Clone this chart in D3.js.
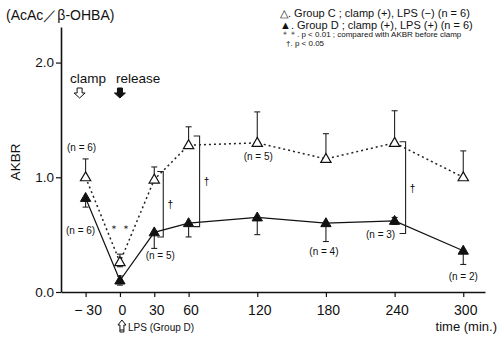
<!DOCTYPE html>
<html><head><meta charset="utf-8">
<script src="https://cdn.jsdelivr.net/npm/d3@7"></script>
<style>
body{margin:0;background:#fff;}
svg{display:block;}
text{font-family:"Liberation Sans",Arial,sans-serif;fill:#111;}
</style></head>
<body>
<svg id="c" width="499" height="340"></svg>
<script>
// ---- data ----
const times = [-30, 0, 30, 60, 120, 180, 240, 300];
const xTicks = [-30, 0, 30, 60, 120, 180, 240, 300];
const xTickLabels = ["\u2212 30", "0", "30", "60", "120", "180", "240", "300"];
const yTicks = [0, 1, 2];
const yTickLabels = ["0.0", "1.0", "2.0"];
const groupC = [1.00, 0.26, 0.98, 1.28, 1.30, 1.16, 1.30, 1.00];
const groupCErrUp = [0.16, 0.07, 0.11, 0.16, 0.27, 0.22, 0.28, 0.23];
const groupCErrDown = [0, 0.04, 0, 0, 0, 0, 0, 0];
const groupD = [0.82, 0.10, 0.52, 0.60, 0.65, 0.60, 0.62, 0.36];
const groupDErrUp = [0, 0.04, 0, 0, 0, 0, 0.03, 0];
const groupDErrDown = [0.08, 0.04, 0.14, 0.12, 0.15, 0.16, 0.03, 0.12];
const bracketTimes = [30, 60, 240];
const bracketTop = [1.05, 1.36, 1.31];
const bracketBottom = [0.48, 0.57, 0.51];
const legendLines = ["\u25B3. Group  C ; clamp (+), LPS (\u2212)  (n = 6)",
                     "\u25B2. Group  D ; clamp (+), LPS (+)  (n = 6)"];
const footnotes = ["\uFF0A\uFF0A.  p < 0.01 ; compared with AKBR before clamp",
                   "\u2020.  p < 0.05"];

// ---- scales ----
const svg = d3.select("#c");
const x = d3.scaleLinear().domain([-51.5, 319]).range([61, 485]);
const y = d3.scaleLinear().domain([0, 2.31]).range([292, 27]);

// axes
const xAxis = d3.axisBottom(x).tickValues(xTicks).tickSize(5).tickFormat((d,i)=>xTickLabels[i]).tickSizeOuter(0);
const gx = svg.append("g").attr("transform","translate(0,292)").call(xAxis);
gx.select(".domain").attr("stroke","#111").attr("stroke-width",1.6);
gx.selectAll(".tick line").attr("stroke","#111").attr("stroke-width",1.2);
gx.selectAll(".tick text").attr("font-size","14px").attr("dy","1.05em").attr("dx","2")
  .style("font-family","'Liberation Sans',Arial,sans-serif").attr("fill","#111");

const yAxis = d3.axisLeft(y).tickValues(yTicks).tickSize(5).tickFormat((d,i)=>yTickLabels[i]).tickSizeOuter(0);
const gy = svg.append("g").attr("transform","translate(61,0)").call(yAxis);
gy.select(".domain").attr("stroke","#111").attr("stroke-width",1.6);
gy.selectAll(".tick line").attr("stroke","#111").attr("stroke-width",1.2);
gy.selectAll(".tick text").attr("font-size","13.5px").attr("x",-7)
  .style("font-family","'Liberation Sans',Arial,sans-serif").attr("fill","#111");

// lines
const ptsC = times.map((t,i)=>[t,groupC[i]]);
const ptsD = times.map((t,i)=>[t,groupD[i]]);
const line = d3.line().x(d=>x(d[0])).y(d=>y(d[1]));
svg.append("path").attr("d",line(ptsC)).attr("fill","none").attr("stroke","#222")
  .attr("stroke-width",1.5).attr("stroke-dasharray","2,3");
svg.append("path").attr("d",line(ptsD)).attr("fill","none").attr("stroke","#111")
  .attr("stroke-width",1.2);

// error bars
function errBars(vals, up, down){
  const g = svg.append("g").attr("stroke","#222").attr("stroke-width",1.1);
  times.forEach((t,i)=>{
    const cx = x(t);
    const top = y(vals[i]+up[i]), bot = y(vals[i]-down[i]);
    g.append("line").attr("x1",cx).attr("x2",cx).attr("y1",top).attr("y2",bot);
    if(up[i]>0) g.append("line").attr("x1",cx-3).attr("x2",cx+3).attr("y1",top).attr("y2",top);
    if(down[i]>0) g.append("line").attr("x1",cx-3).attr("x2",cx+3).attr("y1",bot).attr("y2",bot);
  });
}
errBars(groupC, groupCErrUp, groupCErrDown);
errBars(groupD, groupDErrUp, groupDErrDown);

// markers
const tri = d3.symbol().type(d3.symbolTriangle).size(46);
svg.append("g").selectAll("path").data(ptsC).join("path")
  .attr("d",tri).attr("transform",d=>`translate(${x(d[0])},${y(d[1])+0.5})`)
  .attr("fill","#fff").attr("stroke","#111").attr("stroke-width",1.2);
svg.append("g").selectAll("path").data(ptsD).join("path")
  .attr("d",tri).attr("transform",d=>`translate(${x(d[0])},${y(d[1])+0.5})`)
  .attr("fill","#111").attr("stroke","#111").attr("stroke-width",1);

// significance brackets
bracketTimes.forEach((t,i)=>{
  const bx = x(t) + (i===0 ? 9 : 11);
  const t0 = y(bracketTop[i]), b0 = y(bracketBottom[i]);
  svg.append("path").attr("d",`M${bx-6},${t0}H${bx}V${b0}H${bx-6}`)
    .attr("fill","none").attr("stroke","#222").attr("stroke-width",1.1);
  svg.append("text").attr("x",bx+7).attr("y",(t0+b0)/2+4).attr("font-size","10px")
    .attr("text-anchor","middle").style("fill","#000").text("\u2020");
});

// n labels & stars
const lab = (tx,ty,s,fs)=>svg.append("text").attr("x",tx).attr("y",ty)
  .attr("font-size",fs||"10px").attr("text-anchor","middle").text(s);
lab(x(-30)-4, y(groupC[0])-26, "(n = 6)");
lab(x(-30)-5, y(groupD[0])+36, "(n = 6)");
lab(x(0), 232, "\uFF0A \uFF0A", "10px");
lab(x(30)+6, y(groupD[2])+27, "(n = 5)");
lab(x(120)+1, y(groupC[4])+17, "(n = 5)");
lab(x(180)-2, y(groupD[5])+32, "(n = 4)");
lab(x(240)-14, y(groupD[6])+17, "(n = 3)");
lab(x(300), y(groupD[7])+29, "(n = 2)");

// title & axis labels
svg.append("text").attr("x",6).attr("y",20).attr("font-size","14px").text("(AcAc\uFF0F\u03B2-OHBA)");
svg.append("text").attr("transform","translate(20,162) rotate(-90)").attr("text-anchor","middle")
  .attr("font-size","13.5px").text("AKBR");
svg.append("text").attr("x",497).attr("y",331).attr("text-anchor","end").attr("font-size","13px").text("time (min.)");
svg.append("text").attr("x",128).attr("y",331).attr("font-size","10px").text("LPS (Group D)");

// clamp / release
svg.append("text").attr("x",70).attr("y",83).attr("font-size","13.5px").text("clamp");
svg.append("text").attr("x",116).attr("y",83).attr("font-size","13.5px").text("release");
function downArrow(cx, top, filled){
  const p = `M${cx-2.5},${top}H${cx+2.5}V${top+5}H${cx+5.5}L${cx},${top+10}L${cx-5.5},${top+5}H${cx-2.5}Z`;
  svg.append("path").attr("d",p).attr("fill",filled?"#111":"#fff").attr("stroke","#111").attr("stroke-width",1);
}
downArrow(x(-30)-6, 88, false);
downArrow(x(0), 88, true);
// LPS up arrow (outlined)
(function(){
  const cx = x(0)+2, top = 320;
  const p = `M${cx},${top}L${cx+4},${top+5}H${cx+2}V${top+12}H${cx-2}V${top+5}H${cx-4}Z`;
  svg.append("path").attr("d",p).attr("fill","#fff").attr("stroke","#111").attr("stroke-width",1);
  svg.append("line").attr("x1",cx-2).attr("x2",cx+2).attr("y1",top+10).attr("y2",top+10).attr("stroke","#111");
})();

// legend
legendLines.forEach((s,i)=>{
  svg.append("text").attr("x",280).attr("y",17+i*11.5).attr("font-size","11px").text(s);
});
footnotes.forEach((s,i)=>{
  svg.append("text").attr("x",i===0?281:286).attr("y",37+i*8.5).attr("font-size","8px").text(s);
});
</script>
</body></html>
